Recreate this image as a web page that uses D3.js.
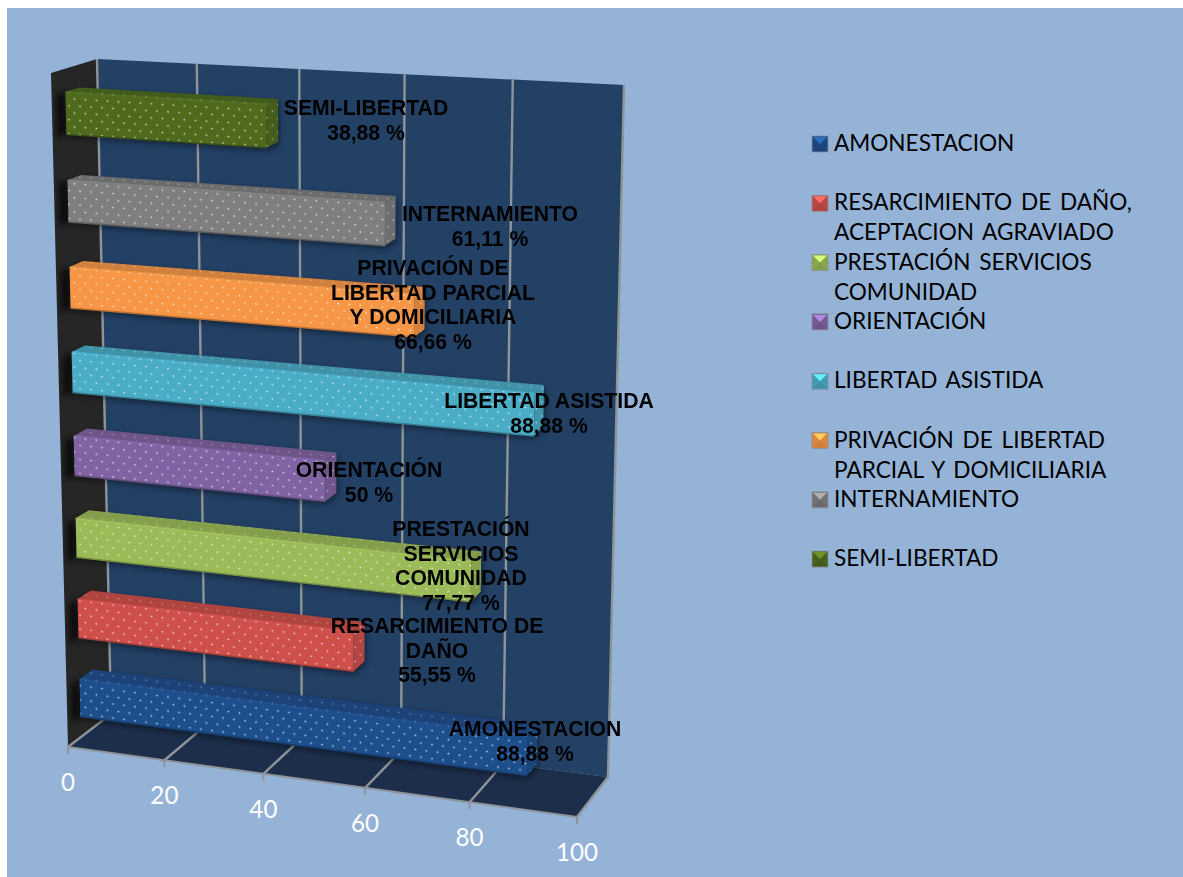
<!DOCTYPE html>
<html>
<head>
<meta charset="utf-8">
<style>
body { margin: 0; background: #fff; }
svg { display: block; }
.label { font: bold 21.2px "Liberation Sans", Arial, sans-serif; fill: #000; text-anchor: middle; }
.legend text { font: 22.6px Lato, sans-serif; fill: #000; word-spacing: 3px; }
.tick { font: 24.2px Lato, sans-serif; fill: #fff; text-anchor: middle; }
</style>
</head>
<body>
<svg id="chart" width="1183" height="877"></svg>
<script src="https://d3js.org/d3.v7.min.js"></script>
<script>

// bottom to top, same order as the original excel chart
var categories = ["AMONESTACION", "RESARCIMIENTO", "PRESTACION", "ORIENTACION", "LIBERTAD", "PRIVACION", "INTERNAMIENTO", "SEMI"];
var values = [88.88, 55.55, 77.77, 50, 88.88, 66.66, 61.11, 38.88];
var tickValues = [0, 20, 40, 60, 80, 100];
var colors = ["#1f4f8c", "#cf504c", "#9bbb59", "#8064a2", "#4bacc6", "#f79646", "#7f7f7f", "#4f6b1f"];

var dataLabels = [
  ["AMONESTACION", "88,88 %"],
  ["RESARCIMIENTO DE", "DAÑO", "55,55 %"],
  ["PRESTACIÓN", "SERVICIOS", "COMUNIDAD", "77,77 %"],
  ["ORIENTACIÓN", "50 %"],
  ["LIBERTAD ASISTIDA", "88,88 %"],
  ["PRIVACIÓN DE", "LIBERTAD PARCIAL", "Y DOMICILIARIA", "66,66 %"],
  ["INTERNAMIENTO", "61,11 %"],
  ["SEMI-LIBERTAD", "38,88 %"]
];
var labelX = [535, 437, 461, 369, 549, 433, 490, 366];
var labelY = [736, 633, 536, 477, 408, 275, 221, 115];

var legendLabels = [
  ["AMONESTACION"],
  ["RESARCIMIENTO DE DAÑO,", "ACEPTACION AGRAVIADO"],
  ["PRESTACIÓN SERVICIOS", "COMUNIDAD"],
  ["ORIENTACIÓN"],
  ["LIBERTAD ASISTIDA"],
  ["PRIVACIÓN DE LIBERTAD", "PARCIAL Y DOMICILIARIA"],
  ["INTERNAMIENTO"],
  ["SEMI-LIBERTAD"]
];

var svg = d3.select("#chart");
var line = d3.line();

// corners of the 3d box on screen
var FBL = [68, 747], FBR = [577, 817], FTL = [51, 73], FTR = [596, 107];
var BBL = [111, 714], BBR = [608, 777], BTL = [97, 59], BTR = [624, 85];

var x = d3.scaleLinear().domain([0, 100]).range([0, 1]);
var y = d3.scaleBand().domain(categories).range([0, 1]).paddingInner(0.52).paddingOuter(0.26);
var color = d3.scaleOrdinal().domain(categories).range(colors);

// perspective squeeze, things further left/down look a bit smaller
function warp(t) { return t / (1 + 0.07 * (1 - t)); }
function mix(a, b, t) { return [a[0] + (b[0] - a[0]) * t, a[1] + (b[1] - a[1]) * t]; }

function project(v, d, h) {
  var u = warp(x(v)), w = warp(h);
  var front = mix(mix(FBL, FBR, u), mix(FTL, FTR, u), w);
  var back = mix(mix(BBL, BBR, u), mix(BTL, BTR, u), w);
  return mix(front, back, d);
}

var defs = svg.append("defs");
defs.append("filter").attr("id", "soft").append("feGaussianBlur").attr("stdDeviation", 0.7);
defs.append("filter").attr("id", "shadow")
    .attr("x", "-20%").attr("y", "-40%").attr("width", "140%").attr("height", "180%")
  .append("feGaussianBlur").attr("stdDeviation", 3);

svg.append("rect").attr("x", 7).attr("y", 8).attr("width", 1176).attr("height", 869).attr("fill", "#95b3d7");

// walls
function face(pts, fill) {
  return svg.append("path").attr("d", line(pts) + "Z").attr("fill", fill);
}
face([project(0, 0, 0), project(0, 1, 0), project(0, 1, 1), project(0, 0, 1)], "#262626");
face([project(0, 1, 0), project(100, 1, 0), project(100, 1, 1), project(0, 1, 1)], "#234065");
face([project(0, 0, 0), project(100, 0, 0), project(100, 1, 0), project(0, 1, 0)], "#1c2e4a");

// gridlines and axis
var grey = "#8e9499";
tickValues.forEach(function(t) {
  svg.append("path")
      .attr("d", line([project(t, 0, 0), project(t, 1, 0), project(t, 1, 1)]))
      .attr("fill", "none").attr("stroke", grey).attr("stroke-width", 2.4);
  var p = project(t, 0, 0);
  svg.append("path").attr("d", line([p, [p[0], p[1] + 7]]))
      .attr("stroke", grey).attr("stroke-width", 2);
  svg.append("text").attr("class", "tick").attr("x", p[0]).attr("y", p[1] + 44).text(t);
});
svg.append("path").attr("d", line([project(0, 0, 0), project(100, 0, 0)]))
    .attr("stroke", grey).attr("stroke-width", 2);

// bars
var d0 = 0.3, d1 = 0.6;
categories.forEach(function(c, i) {
  var v = values[i], lo = y(c), hi = lo + y.bandwidth(), col = color(c);
  var a = project(0, d0, hi), b = project(v, d0, hi), e = project(v, d0, lo), f = project(0, d0, lo);
  var g = project(0, d1, hi), k = project(v, d1, hi), m = project(v, d1, lo);

  // shadow on the side wall and behind the bar
  face([project(0, 0.1, hi), project(0, d0, hi), project(0, d0, lo), project(0, 0.1, lo)], "#000")
      .attr("filter", "url(#shadow)").attr("opacity", 0.7);
  face([a, g, k, m, e, f], "#000").attr("transform", "translate(1,3)")
      .attr("filter", "url(#shadow)").attr("opacity", 0.45);

  var slope = (b[1] - a[1]) / (b[0] - a[0]);
  var dots = defs.append("pattern").attr("id", "dots" + i)
      .attr("patternUnits", "userSpaceOnUse").attr("width", 11).attr("height", 14)
      .attr("patternTransform", "skewY(" + Math.atan(slope) * 180 / Math.PI + ")");
  [[3, 3.5], [8.5, 10.5]].forEach(function(q) {
    dots.append("circle").attr("cx", q[0]).attr("cy", q[1]).attr("r", 0.85)
        .attr("fill", d3.interpolateRgb(col, "#fff")(0.8));
  });

  var group = svg.append("g").attr("filter", "url(#soft)");
  function barFace(pts, fill, dotted) {
    group.append("path").attr("d", line(pts) + "Z").attr("fill", fill);
    if (dotted > 0) group.append("path").attr("d", line(pts) + "Z").attr("fill", "url(#dots" + i + ")").attr("opacity", dotted);
  }
  barFace([a, g, k, b], d3.color(col).darker(0.45), 0.45);
  barFace([b, k, m, e], d3.color(col).darker(0.4), 0.7);
  barFace([a, b, e, f], col, 1);
  // bevels
  group.append("path").attr("d", line([a, b])).attr("stroke", d3.color(col).brighter(0.4)).attr("stroke-width", 1.5).attr("opacity", 0.6);
  group.append("path").attr("d", line([f, e])).attr("stroke", d3.color(col).darker(0.8)).attr("stroke-width", 1.5);
});

// value labels, typed in by hand in the original
dataLabels.forEach(function(lines, i) {
  var text = svg.append("text").attr("class", "label");
  lines.forEach(function(l, j) {
    text.append("tspan").attr("x", labelX[i]).attr("y", labelY[i] + j * 24.6).text(l);
  });
});

// legend
var legend = svg.append("g").attr("class", "legend");
legendLabels.forEach(function(lines, i) {
  var row = legend.append("g").attr("transform", "translate(812," + (136 + i * 59.3) + ")");
  var col = colors[i];
  row.append("rect").attr("width", 16).attr("height", 16).attr("fill", d3.color(col).darker(0.3))
      .attr("stroke", "#8a8f98").attr("stroke-width", 0.8);
  row.append("path").attr("d", line([[1, 1], [15, 1], [8, 8]]) + "Z").attr("fill", d3.color(col).brighter(0.9));
  row.append("path").attr("d", line([[1, 15], [15, 15], [8, 8]]) + "Z").attr("fill", d3.color(col).darker(0.5));
  lines.forEach(function(l, j) {
    row.append("text").attr("x", 22).attr("y", 15 + j * 30).text(l);
  });
});

</script>
</body>
</html>
